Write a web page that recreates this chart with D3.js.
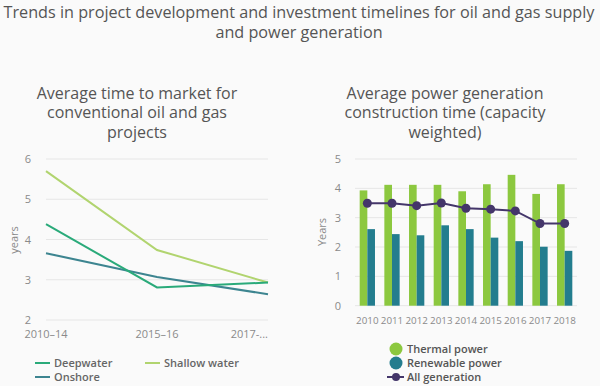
<!DOCTYPE html>
<html><head><meta charset="utf-8">
<script src="https://cdn.jsdelivr.net/npm/d3@7"></script>
<style>body{margin:0;background:#fafafa;}svg{display:block;font-family:"Open Sans",sans-serif;}</style>
</head><body>
<svg id="c" width="600" height="386"></svg>
<script>
const periods = ["2010–14", "2015–16", "2017-..."];
const deepwater = [4.38, 2.81, 2.93];
const shallow = [5.70, 3.74, 2.93];
const onshore = [3.66, 3.07, 2.64];
const leftTicks = [2, 3, 4, 5, 6];

const years = ["2010","2011","2012","2013","2014","2015","2016","2017","2018"];
const thermal = [3.93, 4.12, 4.12, 4.12, 3.90, 4.14, 4.46, 3.81, 4.14];
const renewable = [2.61, 2.44, 2.40, 2.74, 2.61, 2.32, 2.20, 2.01, 1.87];
const allGen = [3.49, 3.49, 3.41, 3.50, 3.32, 3.29, 3.23, 2.80, 2.80];
const rightTicks = [0, 1, 2, 3, 4, 5];

const svg = d3.select("#c");
const tickGray = "#8a8a8a", grid = "#e6e6e6";
const cDeep = "#2aaa7a", cShallow = "#b1d46f", cOn = "#3d8590";
const cTherm = "#8cc83f", cRen = "#237d8e", cAll = "#44366a";

// Main title
svg.append("text").attr("x", 299).attr("y", 17.5).attr("text-anchor", "middle")
  .attr("font-size", 16.2).attr("fill", "#555").text("Trends in project development and investment timelines for oil and gas supply");
svg.append("text").attr("x", 299).attr("y", 37.5).attr("text-anchor", "middle")
  .attr("font-size", 16.2).attr("fill", "#555").text("and power generation");

// Subtitles
function subtitle(x, lines) {
  lines.forEach((l, i) => svg.append("text").attr("x", x).attr("y", 98.5 + i * 19.5)
    .attr("text-anchor", "middle").attr("font-size", 16).attr("fill", "#555").text(l));
}
subtitle(137, ["Average time to market for", "conventional oil and gas", "projects"]);
subtitle(445, ["Average power generation", "construction time (capacity", "weighted)"]);

// ===== Left chart =====
const xL = d3.scalePoint().domain(periods).range([46, 268]);
const yL = d3.scaleLinear().domain([2, 6]).range([320, 159]);
const gL = svg.append("g");
gL.selectAll("line.g").data(leftTicks).join("line")
  .attr("x1", 46).attr("x2", 268).attr("y1", d => yL(d)).attr("y2", d => yL(d))
  .attr("stroke", grid).attr("stroke-width", 1);
gL.selectAll("text.yt").data(leftTicks).join("text")
  .attr("x", 28).attr("y", d => yL(d) + 4).attr("text-anchor", "middle")
  .attr("font-size", 11).attr("fill", tickGray).text(d => d);
gL.selectAll("text.xt").data(periods).join("text")
  .attr("x", d => xL(d)).attr("y", 337.5)
  .attr("text-anchor", (d, i) => i === periods.length - 1 ? "end" : "middle")
  .attr("font-size", 11).attr("fill", tickGray).text(d => d);
svg.append("text").attr("transform", "translate(18,240) rotate(-90)")
  .attr("text-anchor", "middle").attr("font-size", 11).attr("fill", tickGray).text("years");

const leftSeries = [
  {name: "Shallow water", vals: shallow, color: cShallow},
  {name: "Onshore", vals: onshore, color: cOn},
  {name: "Deepwater", vals: deepwater, color: cDeep}
];
const lineL = d3.line().x((d, i) => xL(periods[i])).y(d => yL(d));
leftSeries.forEach(s => gL.append("path").attr("d", lineL(s.vals))
  .attr("fill", "none").attr("stroke", s.color).attr("stroke-width", 2));

// left legend
const legL = [
  {name: "Deepwater", color: cDeep, x: 35, y: 363},
  {name: "Shallow water", color: cShallow, x: 145, y: 363},
  {name: "Onshore", color: cOn, x: 35, y: 377}
];
legL.forEach(l => {
  svg.append("line").attr("x1", l.x).attr("x2", l.x + 15).attr("y1", l.y).attr("y2", l.y)
    .attr("stroke", l.color).attr("stroke-width", 2);
  svg.append("text").attr("x", l.x + 19).attr("y", l.y + 4).attr("font-size", 11)
    .attr("font-weight", 600).attr("fill", "#666").text(l.name);
});

// ===== Right chart =====
const xR = d3.scaleBand().domain(years).range([355, 577]).paddingInner(0.38).paddingOuter(0.19);
const yR = d3.scaleLinear().domain([0, 5]).range([305.7, 159]);
const gR = svg.append("g");
gR.selectAll("line.g").data(rightTicks).join("line")
  .attr("x1", 355).attr("x2", 577).attr("y1", d => yR(d)).attr("y2", d => yR(d))
  .attr("stroke", grid).attr("stroke-width", 1);
gR.selectAll("text.yt").data(rightTicks).join("text")
  .attr("x", 338).attr("y", d => yR(d) + 4).attr("text-anchor", "middle")
  .attr("font-size", 11).attr("fill", tickGray).text(d => d);
gR.selectAll("text.xt").data(years).join("text")
  .attr("x", d => xR(d) + xR.bandwidth() / 2).attr("y", 324).attr("text-anchor", "middle")
  .attr("font-size", 9.8).attr("fill", tickGray).text(d => d);
svg.append("text").attr("transform", "translate(326,232) rotate(-90)")
  .attr("text-anchor", "middle").attr("font-size", 11).attr("fill", tickGray).text("Years");

const bw = xR.bandwidth() / 2;
gR.selectAll("rect.t").data(thermal).join("rect")
  .attr("x", (d, i) => xR(years[i])).attr("width", bw)
  .attr("y", d => yR(d)).attr("height", d => yR(0) - yR(d)).attr("fill", cTherm);
gR.selectAll("rect.r").data(renewable).join("rect")
  .attr("x", (d, i) => xR(years[i]) + bw).attr("width", bw)
  .attr("y", d => yR(d)).attr("height", d => yR(0) - yR(d)).attr("fill", cRen);
const lineR = d3.line().x((d, i) => xR(years[i]) + xR.bandwidth() / 2).y(d => yR(d));
gR.append("path").attr("d", lineR(allGen)).attr("fill", "none").attr("stroke", cAll).attr("stroke-width", 2);
gR.selectAll("circle").data(allGen).join("circle")
  .attr("cx", (d, i) => xR(years[i]) + xR.bandwidth() / 2).attr("cy", d => yR(d))
  .attr("r", 4.5).attr("fill", cAll);

// right legend
const legR = [
  {name: "Thermal power", color: cTherm, y: 349, type: "circle"},
  {name: "Renewable power", color: cRen, y: 363, type: "circle"},
  {name: "All generation", color: cAll, y: 377, type: "line"}
];
legR.forEach(l => {
  if (l.type === "circle") {
    svg.append("circle").attr("cx", 396).attr("cy", l.y).attr("r", 6.5).attr("fill", l.color);
  } else {
    svg.append("line").attr("x1", 387).attr("x2", 404).attr("y1", l.y).attr("y2", l.y)
      .attr("stroke", l.color).attr("stroke-width", 2);
    svg.append("circle").attr("cx", 396).attr("cy", l.y).attr("r", 4).attr("fill", l.color);
  }
  svg.append("text").attr("x", 407).attr("y", l.y + 4).attr("font-size", 11)
    .attr("font-weight", 600).attr("fill", "#555").text(l.name);
});
</script>
</body></html>
